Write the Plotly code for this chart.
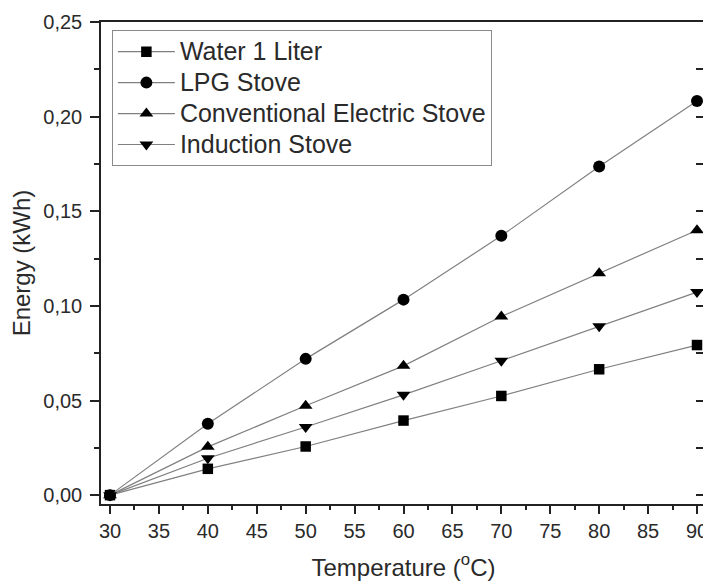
import plotly.graph_objects as go

temperature = [30, 40, 50, 60, 70, 80, 90]
water_1_liter = [0.0, 0.0139, 0.0257, 0.0394, 0.0524, 0.0665, 0.0793]
lpg_stove = [0.0, 0.0377, 0.0720, 0.1033, 0.1370, 0.1736, 0.2083]
conventional_electric = [0.0, 0.0255, 0.0472, 0.0683, 0.0944, 0.1172, 0.1400]
induction_stove = [0.0, 0.0195, 0.0360, 0.0530, 0.0710, 0.0893, 0.1073]

series_names = ["Water 1 Liter", "LPG Stove", "Conventional Electric Stove", "Induction Stove"]
series_values = [water_1_liter, lpg_stove, conventional_electric, induction_stove]
symbols = ["square", "circle", "triangle-up", "triangle-down"]
sizes = [10.5, 12, 12, 12]

FONT = "Liberation Sans, Arial, sans-serif"
TXT = "#2a2a2a"

fig = go.Figure()
for name, vals, sym, sz in zip(series_names, series_values, symbols, sizes):
    fig.add_trace(go.Scatter(
        x=temperature, y=vals, mode="lines+markers",
        name='<span style="font-size:25px">' + name + "</span>",
        line=dict(color="#808080", width=1.2),
        marker=dict(symbol=sym, size=sz, color="black", line=dict(width=0)),
    ))
# empty helper trace so the right-hand inward tick axis is drawn
fig.add_trace(go.Scatter(x=[], y=[], yaxis="y2", showlegend=False, hoverinfo="skip"))

fig.update_layout(
    width=703, height=579,
    margin=dict(l=93, r=3, t=7, b=83),
    paper_bgcolor="white", plot_bgcolor="white",
    separators=", ",
    font=dict(family=FONT, color=TXT, size=20),
    showlegend=True,
    legend=dict(
        x=0.018, y=0.983, xanchor="left", yanchor="top",
        bgcolor="white", bordercolor="#8a8a8a", borderwidth=1,
        font=dict(family=FONT, size=21.5, color=TXT),
        tracegroupgap=0, itemwidth=57,
    ),
    xaxis=dict(
        range=[29.08, 90.92], tickmode="linear", tick0=30, dtick=5,
        ticks="outside", ticklen=8, tickwidth=1.5, tickcolor="#222",
        showline=True, linecolor="#222", linewidth=1.5, mirror=True,
        showgrid=False, zeroline=False,
        tickfont=dict(size=20, color=TXT),
        minor=dict(ticks="outside", ticklen=4, tickwidth=1.5, tickcolor="#222", dtick=2.5, tick0=30, showgrid=False),
        title=dict(text="Temperature (<sup>o</sup>C)", font=dict(size=24, color=TXT), standoff=18),
    ),
    yaxis=dict(
        range=[-0.0046875, 0.25], tickmode="linear", tick0=0, dtick=0.05, tickformat=".2f",
        ticks="outside", ticklen=9, tickwidth=1.5, tickcolor="#222",
        showline=True, linecolor="#222", linewidth=1.5, mirror=True,
        showgrid=False, zeroline=False, ticklabeloverflow="allow", ticklabelstandoff=4,
        tickfont=dict(size=20, color=TXT),
        minor=dict(ticks="outside", ticklen=5, tickwidth=1.5, tickcolor="#222", dtick=0.025, tick0=0, showgrid=False),
        title=dict(text="Energy (kWh)", font=dict(size=24, color=TXT), standoff=13),
    ),
    yaxis2=dict(
        overlaying="y", side="right", range=[-0.0046875, 0.25],
        tickmode="linear", tick0=0, dtick=0.025,
        ticks="inside", ticklen=10, tickwidth=1.5, tickcolor="#222",
        showticklabels=False, showline=False, showgrid=False, zeroline=False,
    ),
)

fig.write_html("out.html")
